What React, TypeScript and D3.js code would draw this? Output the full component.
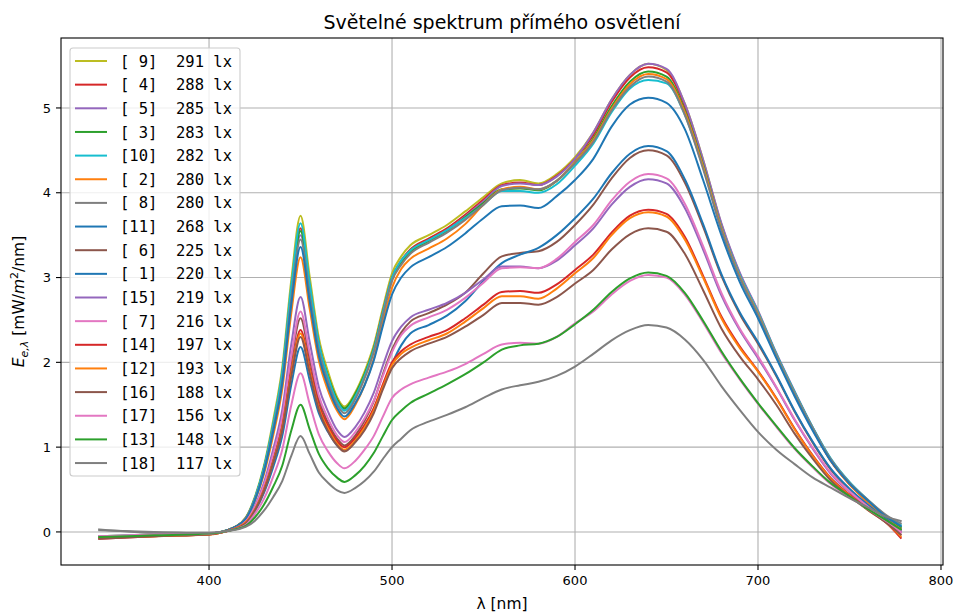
import { useEffect, useRef } from "react";
import * as d3 from "d3";

// vlnové délky [nm]
const wavelengths = [340, 370, 400, 410, 420, 425, 430, 435, 440, 445, 450, 455, 460, 465, 470, 474, 480, 485, 490, 495, 500, 505, 510, 520, 530, 540, 550, 560, 570, 580, 590, 600, 610, 620, 630, 640, 650, 660, 670, 680, 690, 700, 710, 720, 730, 740, 750, 760, 770, 778];

// spektrální ozáření jednotlivých měření [mW/m2/nm]
const m9 = [-0.05, -0.03, -0.02, 0.02, 0.17, 0.41, 0.78, 1.31, 1.94, 2.98, 3.73, 3.01, 2.29, 1.89, 1.59, 1.48, 1.65, 1.89, 2.2, 2.64, 3.05, 3.25, 3.38, 3.5, 3.62, 3.78, 3.95, 4.11, 4.15, 4.11, 4.22, 4.42, 4.71, 5.1, 5.39, 5.52, 5.45, 5.05, 4.39, 3.63, 3.05, 2.6, 2.1, 1.65, 1.22, 0.84, 0.57, 0.36, 0.18, 0.05];
const m4 = [-0.07, -0.04, -0.02, 0.02, 0.16, 0.39, 0.75, 1.25, 1.86, 2.86, 3.58, 2.9, 2.22, 1.83, 1.56, 1.45, 1.62, 1.85, 2.16, 2.6, 3.0, 3.2, 3.33, 3.46, 3.58, 3.74, 3.92, 4.09, 4.12, 4.09, 4.2, 4.4, 4.68, 5.07, 5.36, 5.48, 5.42, 5.02, 4.36, 3.61, 3.03, 2.58, 2.09, 1.64, 1.21, 0.83, 0.56, 0.35, 0.16, 0.02];
const m5 = [-0.06, -0.04, -0.02, 0.02, 0.16, 0.39, 0.74, 1.23, 1.82, 2.8, 3.5, 2.84, 2.18, 1.81, 1.54, 1.44, 1.61, 1.84, 2.15, 2.58, 2.98, 3.18, 3.3, 3.44, 3.56, 3.72, 3.9, 4.08, 4.11, 4.09, 4.19, 4.4, 4.71, 5.1, 5.39, 5.52, 5.46, 5.05, 4.39, 3.64, 3.06, 2.61, 2.11, 1.66, 1.23, 0.85, 0.58, 0.37, 0.18, 0.04];
const m3 = [-0.06, -0.03, -0.02, 0.02, 0.16, 0.39, 0.75, 1.24, 1.85, 2.84, 3.55, 2.88, 2.21, 1.84, 1.56, 1.46, 1.63, 1.86, 2.16, 2.58, 2.98, 3.17, 3.3, 3.43, 3.55, 3.71, 3.88, 4.04, 4.05, 4.03, 4.14, 4.36, 4.64, 5.02, 5.31, 5.43, 5.37, 4.97, 4.33, 3.59, 3.02, 2.58, 2.09, 1.64, 1.22, 0.84, 0.57, 0.36, 0.17, 0.06];
const m10 = [-0.05, -0.03, -0.02, 0.02, 0.16, 0.4, 0.76, 1.27, 1.89, 2.91, 3.64, 2.93, 2.23, 1.83, 1.54, 1.43, 1.6, 1.84, 2.15, 2.59, 3.0, 3.2, 3.32, 3.44, 3.56, 3.7, 3.86, 4.02, 4.02, 4.0, 4.1, 4.32, 4.58, 4.95, 5.23, 5.33, 5.29, 4.92, 4.3, 3.59, 3.03, 2.59, 2.1, 1.65, 1.23, 0.86, 0.59, 0.38, 0.19, 0.08];
const m2 = [-0.07, -0.04, -0.03, 0.02, 0.15, 0.36, 0.68, 1.13, 1.68, 2.59, 3.24, 2.63, 2.02, 1.67, 1.43, 1.33, 1.5, 1.73, 2.04, 2.48, 2.88, 3.1, 3.22, 3.34, 3.46, 3.63, 3.86, 4.04, 4.07, 4.04, 4.14, 4.36, 4.62, 4.99, 5.28, 5.4, 5.34, 4.95, 4.31, 3.58, 3.01, 2.57, 2.08, 1.63, 1.21, 0.83, 0.56, 0.35, 0.16, 0.03];
const m8 = [0.03, -0.01, -0.02, 0.02, 0.16, 0.38, 0.72, 1.21, 1.79, 2.76, 3.45, 2.79, 2.14, 1.77, 1.5, 1.4, 1.57, 1.81, 2.12, 2.55, 2.96, 3.15, 3.28, 3.41, 3.53, 3.68, 3.86, 4.03, 4.06, 4.04, 4.14, 4.35, 4.6, 4.97, 5.25, 5.37, 5.31, 4.92, 4.28, 3.56, 3.0, 2.56, 2.08, 1.63, 1.22, 0.85, 0.58, 0.38, 0.2, 0.1];
const m11 = [-0.06, -0.04, -0.02, 0.02, 0.15, 0.37, 0.71, 1.18, 1.75, 2.69, 3.36, 2.72, 2.08, 1.72, 1.46, 1.36, 1.52, 1.73, 2.02, 2.43, 2.8, 3.0, 3.12, 3.24, 3.36, 3.52, 3.7, 3.84, 3.85, 3.82, 3.96, 4.15, 4.4, 4.78, 5.04, 5.12, 5.06, 4.75, 4.15, 3.5, 2.95, 2.52, 2.05, 1.6, 1.19, 0.83, 0.57, 0.37, 0.18, 0.07];
const m6 = [-0.07, -0.05, -0.02, 0.01, 0.11, 0.28, 0.53, 0.88, 1.31, 2.02, 2.52, 2.04, 1.56, 1.29, 1.1, 1.02, 1.14, 1.31, 1.54, 1.86, 2.15, 2.35, 2.48, 2.58, 2.68, 2.82, 3.05, 3.25, 3.29, 3.31, 3.42, 3.62, 3.86, 4.17, 4.41, 4.5, 4.44, 4.12, 3.6, 3.02, 2.57, 2.22, 1.84, 1.42, 1.05, 0.73, 0.5, 0.31, 0.14, 0.0];
const m1 = [-0.06, -0.04, -0.02, 0.01, 0.1, 0.24, 0.46, 0.76, 1.13, 1.74, 2.18, 1.79, 1.4, 1.18, 1.02, 0.96, 1.07, 1.23, 1.43, 1.71, 1.98, 2.2, 2.34, 2.44, 2.55, 2.72, 2.96, 3.17, 3.27, 3.35, 3.5, 3.7, 3.93, 4.23, 4.46, 4.55, 4.49, 4.16, 3.63, 3.04, 2.59, 2.24, 1.85, 1.43, 1.06, 0.74, 0.51, 0.32, 0.15, 0.02];
const m15 = [-0.06, -0.04, -0.02, 0.01, 0.12, 0.3, 0.58, 0.97, 1.44, 2.22, 2.77, 2.24, 1.71, 1.42, 1.2, 1.12, 1.24, 1.41, 1.64, 1.96, 2.25, 2.42, 2.53, 2.62, 2.7, 2.82, 2.98, 3.13, 3.13, 3.11, 3.2, 3.38, 3.58, 3.86, 4.07, 4.16, 4.11, 3.82, 3.33, 2.79, 2.38, 2.05, 1.7, 1.32, 0.98, 0.68, 0.47, 0.29, 0.13, 0.0];
const m7 = [-0.05, -0.04, -0.02, 0.01, 0.12, 0.29, 0.55, 0.91, 1.35, 2.08, 2.6, 2.11, 1.61, 1.34, 1.14, 1.06, 1.18, 1.34, 1.55, 1.84, 2.12, 2.32, 2.43, 2.53, 2.62, 2.76, 2.94, 3.11, 3.12, 3.11, 3.22, 3.42, 3.62, 3.91, 4.13, 4.22, 4.17, 3.87, 3.37, 2.82, 2.4, 2.07, 1.71, 1.33, 0.99, 0.69, 0.48, 0.3, 0.13, -0.01];
const m14 = [-0.08, -0.05, -0.03, 0.01, 0.11, 0.26, 0.5, 0.83, 1.24, 1.9, 2.38, 1.94, 1.5, 1.25, 1.07, 1.0, 1.11, 1.26, 1.46, 1.74, 2.0, 2.13, 2.21, 2.3, 2.38, 2.52, 2.68, 2.83, 2.84, 2.82, 2.92, 3.09, 3.27, 3.53, 3.73, 3.8, 3.75, 3.48, 3.02, 2.54, 2.19, 1.9, 1.58, 1.22, 0.9, 0.63, 0.44, 0.27, 0.11, -0.07];
const m12 = [-0.07, -0.05, -0.03, 0.01, 0.11, 0.26, 0.49, 0.82, 1.22, 1.87, 2.34, 1.9, 1.46, 1.22, 1.04, 0.97, 1.08, 1.23, 1.43, 1.71, 1.97, 2.1, 2.17, 2.26, 2.34, 2.48, 2.64, 2.78, 2.78, 2.75, 2.87, 3.05, 3.23, 3.5, 3.7, 3.77, 3.72, 3.45, 3.0, 2.52, 2.17, 1.89, 1.57, 1.21, 0.89, 0.62, 0.43, 0.26, 0.11, -0.05];
const m16 = [-0.08, -0.05, -0.03, 0.01, 0.1, 0.25, 0.48, 0.81, 1.2, 1.84, 2.3, 1.87, 1.44, 1.19, 1.02, 0.95, 1.06, 1.2, 1.4, 1.68, 1.93, 2.05, 2.13, 2.22, 2.3, 2.42, 2.56, 2.7, 2.7, 2.68, 2.77, 2.93, 3.09, 3.33, 3.51, 3.58, 3.54, 3.28, 2.85, 2.4, 2.07, 1.8, 1.5, 1.16, 0.86, 0.6, 0.42, 0.26, 0.11, -0.03];
const m17 = [-0.05, -0.03, -0.02, 0.01, 0.08, 0.21, 0.39, 0.65, 0.97, 1.5, 1.87, 1.51, 1.15, 0.95, 0.81, 0.75, 0.84, 0.97, 1.13, 1.36, 1.58, 1.68, 1.74, 1.82, 1.89, 1.98, 2.1, 2.21, 2.23, 2.22, 2.3, 2.46, 2.6, 2.8, 2.96, 3.03, 3.0, 2.8, 2.47, 2.11, 1.8, 1.51, 1.24, 0.98, 0.76, 0.56, 0.41, 0.27, 0.13, 0.01];
const m13 = [-0.06, -0.04, -0.02, 0.01, 0.07, 0.17, 0.32, 0.53, 0.78, 1.2, 1.5, 1.21, 0.92, 0.75, 0.64, 0.59, 0.67, 0.78, 0.93, 1.13, 1.32, 1.43, 1.52, 1.63, 1.74, 1.86, 2.0, 2.15, 2.2, 2.22, 2.3, 2.45, 2.62, 2.83, 2.99, 3.06, 3.02, 2.82, 2.49, 2.13, 1.81, 1.52, 1.25, 0.99, 0.77, 0.57, 0.42, 0.27, 0.14, 0.03];
const m18 = [0.02, 0.0, -0.01, 0.01, 0.06, 0.13, 0.25, 0.41, 0.6, 0.9, 1.13, 0.92, 0.7, 0.58, 0.49, 0.46, 0.52, 0.6, 0.71, 0.86, 1.0, 1.1, 1.2, 1.3, 1.38, 1.47, 1.58, 1.68, 1.73, 1.77, 1.84, 1.95, 2.1, 2.26, 2.38, 2.44, 2.41, 2.27, 2.03, 1.72, 1.44, 1.18, 0.97, 0.8, 0.64, 0.52, 0.4, 0.29, 0.18, 0.13];

// pořadí podle osvětlenosti
const measurements = [m9, m4, m5, m3, m10, m2, m8, m11, m6, m1, m15, m7, m14, m12, m16, m17, m13, m18];
const measurementIds = [9, 4, 5, 3, 10, 2, 8, 11, 6, 1, 15, 7, 14, 12, 16, 17, 13, 18];
const illuminance = [291, 288, 285, 283, 282, 280, 280, 268, 225, 220, 219, 216, 197, 193, 188, 156, 148, 117];

const xTicks = [400, 500, 600, 700, 800];
const yTicks = [0, 1, 2, 3, 4, 5];

// tab10 podle čísla měření
const tab10 = ["#1f77b4", "#ff7f0e", "#2ca02c", "#d62728", "#9467bd", "#8c564b", "#e377c2", "#7f7f7f", "#bcbd22", "#17becf"];

const W = 957;
const H = 613;
const M = { left: 61, right: 943, top: 38, bottom: 565 };

const App = () => {
  const svgRef = useRef<SVGSVGElement>(null);

  useEffect(() => {
    document.body.style.margin = "0";
    if (!svgRef.current) return;
    const svg = d3.select(svgRef.current);
    svg.selectAll("*").remove();

    const x = d3.scaleLinear().domain([319.1, 801.1]).range([M.left, M.right]);
    const y = d3.scaleLinear().domain([-0.39, 5.825]).range([M.bottom, M.top]);

    svg.append("rect").attr("width", W).attr("height", H).attr("fill", "#fff");

    // mřížka
    const grid = svg.append("g").attr("stroke", "#b0b0b0").attr("stroke-width", 1.1);
    xTicks.forEach((t) => {
      grid.append("line").attr("x1", x(t)).attr("x2", x(t)).attr("y1", M.top).attr("y2", M.bottom);
    });
    yTicks.forEach((t) => {
      grid.append("line").attr("x1", M.left).attr("x2", M.right).attr("y1", y(t)).attr("y2", y(t));
    });

    // křivky
    const line = d3
      .line<number>()
      .x((_, i) => x(wavelengths[i]))
      .y((d) => y(d))
      .curve(d3.curveMonotoneX);

    svg
      .append("defs")
      .append("clipPath")
      .attr("id", "plot-clip")
      .append("rect")
      .attr("x", M.left)
      .attr("y", M.top)
      .attr("width", M.right - M.left)
      .attr("height", M.bottom - M.top);

    const lines = svg.append("g").attr("clip-path", "url(#plot-clip)");
    measurements.forEach((m, i) => {
      lines
        .append("path")
        .attr("d", line(m))
        .attr("fill", "none")
        .attr("stroke", tab10[(measurementIds[i] - 1) % 10])
        .attr("stroke-width", 2)
        .attr("stroke-linejoin", "round")
        .attr("stroke-linecap", "square");
    });

    // rám
    svg
      .append("rect")
      .attr("x", M.left)
      .attr("y", M.top)
      .attr("width", M.right - M.left)
      .attr("height", M.bottom - M.top)
      .attr("fill", "none")
      .attr("stroke", "#000")
      .attr("stroke-width", 1.1);

    const font = "'DejaVu Sans', sans-serif";

    // osa x
    xTicks.forEach((t) => {
      svg.append("line").attr("x1", x(t)).attr("x2", x(t)).attr("y1", M.bottom).attr("y2", M.bottom + 5).attr("stroke", "#000").attr("stroke-width", 1.1);
      svg
        .append("text")
        .attr("x", x(t))
        .attr("y", M.bottom + 20)
        .attr("text-anchor", "middle")
        .style("font-family", font)
        .style("font-size", "13px")
        .text(t);
    });

    // osa y
    yTicks.forEach((t) => {
      svg.append("line").attr("x1", M.left - 5).attr("x2", M.left).attr("y1", y(t)).attr("y2", y(t)).attr("stroke", "#000").attr("stroke-width", 1.1);
      svg
        .append("text")
        .attr("x", M.left - 10)
        .attr("y", y(t))
        .attr("dy", "0.36em")
        .attr("text-anchor", "end")
        .style("font-family", font)
        .style("font-size", "13px")
        .text(t);
    });

    // popisky
    svg
      .append("text")
      .attr("x", (M.left + M.right) / 2)
      .attr("y", 29)
      .attr("text-anchor", "middle")
      .style("font-family", font)
      .style("font-size", "19px")
      .text("Světelné spektrum přímého osvětlení");

    svg
      .append("text")
      .attr("x", (M.left + M.right) / 2)
      .attr("y", 609)
      .attr("text-anchor", "middle")
      .style("font-family", font)
      .style("font-size", "15.5px")
      .text("λ [nm]");

    const yl = svg
      .append("text")
      .attr("transform", `translate(24, ${(M.top + M.bottom) / 2}) rotate(-90)`)
      .attr("text-anchor", "middle")
      .style("font-family", font)
      .style("font-size", "15.5px");
    yl.append("tspan").style("font-style", "italic").text("E");
    yl.append("tspan").style("font-style", "italic").style("font-size", "11px").attr("dy", 3.5).text("e,λ");
    yl.append("tspan").attr("dy", -3.5).text(" [mW/");
    yl.append("tspan").style("font-style", "italic").text("m");
    yl.append("tspan").style("font-size", "11px").attr("dy", -6).text("2");
    yl.append("tspan").attr("dy", 6).text("/nm]");

    // legenda
    const rowH = 23.65;
    const legend = svg.append("g");
    legend
      .append("rect")
      .attr("x", 70)
      .attr("y", 48)
      .attr("width", 170)
      .attr("height", 428)
      .attr("rx", 3)
      .attr("fill", "#fff")
      .attr("fill-opacity", 0.8)
      .attr("stroke", "#cccccc")
      .attr("stroke-width", 1.1);

    measurementIds.forEach((id, i) => {
      const cy = 61 + i * rowH;
      legend
        .append("line")
        .attr("x1", 75)
        .attr("x2", 107)
        .attr("y1", cy)
        .attr("y2", cy)
        .attr("stroke", tab10[(id - 1) % 10])
        .attr("stroke-width", 2);
      const label = `[${String(id).padStart(2, " ")}]  ${illuminance[i]} lx`;
      legend
        .append("text")
        .attr("x", 120)
        .attr("y", cy)
        .attr("dy", "0.36em")
        .style("font-family", "'DejaVu Sans Mono', monospace")
        .style("font-size", "15.5px")
        .style("white-space", "pre")
        .text(label);
    });
  }, []);

  return <svg ref={svgRef} width={W} height={H} style={{ display: "block" }} />;
};

export default App;
